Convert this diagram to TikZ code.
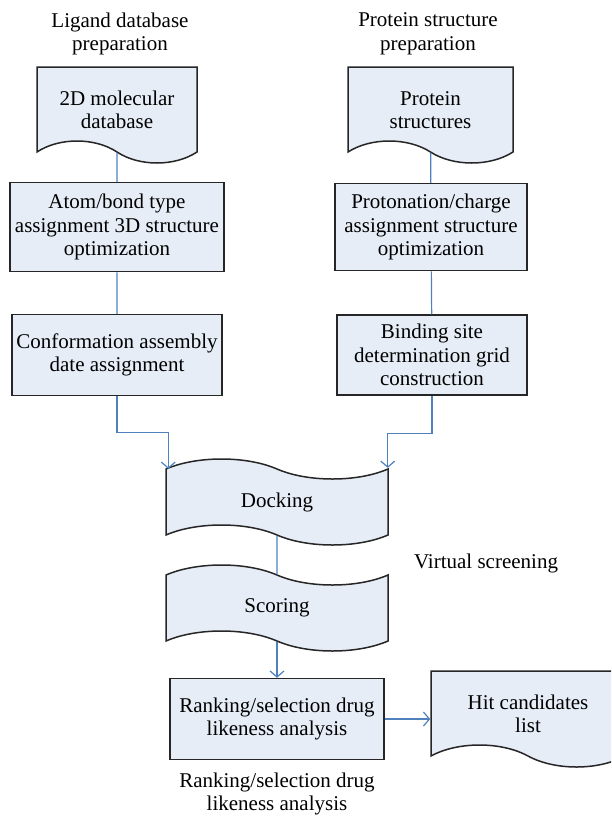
\documentclass[tikz,border=0pt]{standalone}
\usepackage{fontspec}
\setmainfont{Liberation Serif}
\usetikzlibrary{shapes.symbols,arrows.meta}
\definecolor{boxfill}{RGB}{230,237,246}
\definecolor{linkblue}{RGB}{79,129,189}
\newcommand{\docpad}{\rule{0pt}{13pt}}
\tikzset{
  proc/.style={draw=black!85, line width=0.75pt, fill=boxfill, align=center, inner sep=0pt,
    font=\fontsize{10.5}{11.75}\selectfont},
  docu/.style={proc, shape=tape, tape bend top=none, tape bend bottom=out and in, tape bend height=11pt},
  tapebox/.style={proc, shape=tape, tape bend top=out and in, tape bend bottom=out and in, tape bend height=10pt},
  caption/.style={align=center, font=\fontsize{10.5}{11.75}\selectfont},
  link/.style={draw=linkblue, line width=0.6pt},
  flow/.style={link, -{Straight Barb[length=3pt,width=7pt]}}
}

\begin{document}
\begin{tikzpicture}[x=0.5pt,y=-0.5pt]
\clip (0,0) rectangle (611,820);
\node[caption] (ligtitle) at (120,34) {Ligand database\\preparation};
\node[caption] (prottitle) at (428,34) {Protein structure\\preparation};
\node[docu, minimum width=80pt, minimum height=48pt] (moldb) at (117,104) {\docpad 2D molecular\\database};
\node[docu, minimum width=82.5pt, minimum height=48pt] (protdb) at (430.5,104) {\docpad Protein\\structures};
\node[proc, minimum width=107pt, minimum height=44.5pt] (atomtype) at (117,227) {Atom/bond type\\assignment 3D structure\\optimization};
\node[proc, minimum width=96pt, minimum height=43.5pt] (protonate) at (431,227) {Protonation/charge\\assignment structure\\optimization};
\node[proc, minimum width=105pt, minimum height=40.5pt] (conform) at (117,355) {Conformation assembly\\date assignment};
\node[proc, minimum width=95pt, minimum height=40pt] (bindsite) at (432,355) {Binding site\\determination grid\\construction};
\node[tapebox, minimum width=111pt, minimum height=43pt] (dock) at (277,502) {Docking};
\node[tapebox, minimum width=111pt, minimum height=43pt] (score) at (277,608) {Scoring};
\node[proc, minimum width=107pt, minimum height=40.5pt] (rank) at (277,719) {Ranking/selection drug\\likeness analysis};
\node[docu, minimum width=97pt, minimum height=48pt] (hits) at (528,708) {\docpad Hit candidates\\list};
\node[caption, anchor=west] (vs) at (407,563) {Virtual screening};
\node[caption] (ranklabel) at (277,794) {Ranking/selection drug\\likeness analysis};
\draw[link] (moldb) -- (atomtype) (atomtype) -- (conform);
\draw[link] (protdb) -- (protonate) (protonate) -- (bindsite);
\draw[flow] (conform.south) -- ++(0,36) -| ([xshift=1.5pt]dock.north west);
\draw[flow] (bindsite.south) -- ++(0,38) -| ([xshift=-0.5pt]dock.north east);
\draw[link] (dock) -- (score);
\draw[flow] (score) -- (rank);
\draw[flow] (rank.east) -- (rank.east -| hits.west);
\end{tikzpicture}
\end{document}
